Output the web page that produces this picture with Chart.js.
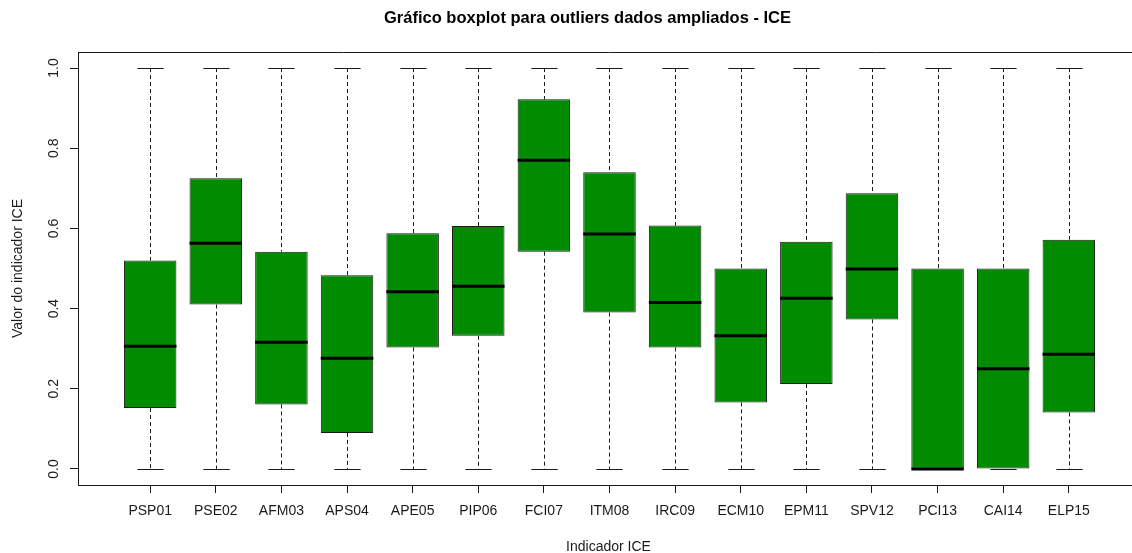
<!DOCTYPE html>
<html>
<head>
<meta charset="utf-8">
<script src="https://cdn.jsdelivr.net/npm/chart.js"></script>
<style>
  html, body { margin: 0; padding: 0; background: #fff; overflow: hidden; }
  #wrap { width: 1141px; height: 553px; }
</style>
<script>
  // boxplot data (one entry per indicador)
  var categories = ["PSP01","PSE02","AFM03","APS04","APE05","PIP06","FCI07","ITM08",
                    "IRC09","ECM10","EPM11","SPV12","PCI13","CAI14","ELP15"];
  var whiskerLow  = [0,0,0,0,0,0,0,0,0,0,0,0,0,0,0];
  var q1          = [0.152,0.410,0.161,0.090,0.303,0.332,0.542,0.390,0.303,0.166,0.212,0.373,0.000,0.000,0.141];
  var medians     = [0.306,0.563,0.316,0.276,0.442,0.456,0.770,0.586,0.415,0.332,0.426,0.499,0.000,0.250,0.286];
  var q3          = [0.520,0.725,0.542,0.483,0.588,0.606,0.922,0.740,0.607,0.500,0.567,0.688,0.500,0.500,0.572];
  var whiskerHigh = [1,1,1,1,1,1,1,1,1,1,1,1,1,1,1];
  var yTicks = [0, 0.2, 0.4, 0.6, 0.8, 1.0];
</script>
</head>
<body>
<div id="wrap"><canvas id="boxChart" width="1141" height="553"></canvas></div>
<script>
  var FONT = '"Liberation Sans", Arial, sans-serif';
  var INK = '#1a1a1a';

  // whiskers, caps, medians, frame and texts drawn in R style
  var rBoxplot = {
    id: 'rBoxplot',
    beforeDatasetsDraw: function(chart) {
      var ctx = chart.ctx, x = chart.scales.x, y = chart.scales.y;
      var bars = chart.getDatasetMeta(0).data;
      ctx.save();
      ctx.strokeStyle = INK;
      ctx.lineWidth = 1;
      categories.forEach(function(c, i) {
        var px = Math.round(x.getPixelForValue(i + 1)) + 0.5;
        var half = bars[i].width / 4;
        var yLo = y.getPixelForValue(whiskerLow[i]);
        var yHi = y.getPixelForValue(whiskerHigh[i]);
        ctx.setLineDash([4, 3]);
        ctx.beginPath();
        ctx.moveTo(px, yHi); ctx.lineTo(px, y.getPixelForValue(q3[i]));
        ctx.moveTo(px, y.getPixelForValue(q1[i])); ctx.lineTo(px, yLo);
        ctx.stroke();
        ctx.setLineDash([]);
        ctx.beginPath();
        ctx.moveTo(px - half, Math.round(yHi) + 0.5); ctx.lineTo(px + half, Math.round(yHi) + 0.5);
        ctx.moveTo(px - half, Math.round(yLo) + 0.5); ctx.lineTo(px + half, Math.round(yLo) + 0.5);
        ctx.stroke();
      });
      ctx.restore();
    },
    afterDatasetsDraw: function(chart) {
      var ctx = chart.ctx, x = chart.scales.x, y = chart.scales.y, area = chart.chartArea;
      var bars = chart.getDatasetMeta(0).data;
      ctx.save();
      // medians
      ctx.strokeStyle = '#000';
      ctx.lineWidth = 3;
      categories.forEach(function(c, i) {
        var py = y.getPixelForValue(medians[i]);
        ctx.beginPath();
        ctx.moveTo(bars[i].x - bars[i].width / 2, py);
        ctx.lineTo(bars[i].x + bars[i].width / 2, py);
        ctx.stroke();
      });
      // top of the frame
      ctx.strokeStyle = INK;
      ctx.lineWidth = 1;
      ctx.beginPath();
      ctx.moveTo(area.left, Math.round(area.top) + 0.5);
      ctx.lineTo(area.right, Math.round(area.top) + 0.5);
      ctx.stroke();

      ctx.fillStyle = INK;
      ctx.textAlign = 'center';
      ctx.textBaseline = 'middle';
      // y tick labels, parallel to the axis
      ctx.font = '14px ' + FONT;
      yTicks.forEach(function(v) {
        ctx.save();
        ctx.translate(54, y.getPixelForValue(v));
        ctx.rotate(-Math.PI / 2);
        ctx.fillText(v.toFixed(1), 0, 0);
        ctx.restore();
      });
      // axis titles
      ctx.fillText('Indicador ICE', 608.5, 547);
      ctx.save();
      ctx.translate(18, (area.top + area.bottom) / 2);
      ctx.rotate(-Math.PI / 2);
      ctx.fillText('Valor do indicador ICE', 0, 0);
      ctx.restore();
      // main title
      ctx.fillStyle = '#000';
      ctx.font = 'bold 16.5px ' + FONT;
      ctx.fillText('Gráfico boxplot para outliers dados ampliados - ICE', 587.5, 18);
      ctx.restore();
    }
  };

  new Chart(document.getElementById('boxChart'), {
    type: 'bar',
    data: {
      datasets: [{
        data: categories.map(function(c, i) { return { x: i + 1, y: [q1[i], q3[i]] }; }),
        backgroundColor: '#008B00',
        borderColor: INK,
        borderWidth: 1,
        borderSkipped: false,
        categoryPercentage: 0.8,
        barPercentage: 1.0
      }]
    },
    options: {
      responsive: false,
      animation: false,
      devicePixelRatio: 1,
      layout: { padding: { top: 52, left: 0, right: 0, bottom: 0 } },
      plugins: { legend: { display: false }, tooltip: { enabled: false }, title: { display: false } },
      scales: {
        x: {
          type: 'linear',
          min: -0.1,
          max: 16.1,
          offset: false,
          grid: { drawOnChartArea: false, drawTicks: true, tickLength: 8, color: INK, offset: false },
          border: { display: true, color: INK, width: 1 },
          ticks: {
            font: { size: 14, family: FONT },
            color: INK,
            padding: 10,
            maxRotation: 0,
            autoSkip: false,
            callback: function(v) { return categories[v - 1]; }
          },
          afterBuildTicks: function(s) { s.ticks = categories.map(function(c, i) { return { value: i + 1 }; }); },
          afterFit: function(s) { s.height = 68; }
        },
        y: {
          min: -0.04,
          max: 1.04,
          grid: { drawOnChartArea: false, drawTicks: true, tickLength: 8, color: INK },
          border: { display: true, color: INK, width: 1 },
          ticks: { display: false },
          afterBuildTicks: function(s) { s.ticks = yTicks.map(function(v) { return { value: v }; }); },
          afterFit: function(s) { s.width = 78; }
        }
      }
    },
    plugins: [rBoxplot]
  });
</script>
</body>
</html>
